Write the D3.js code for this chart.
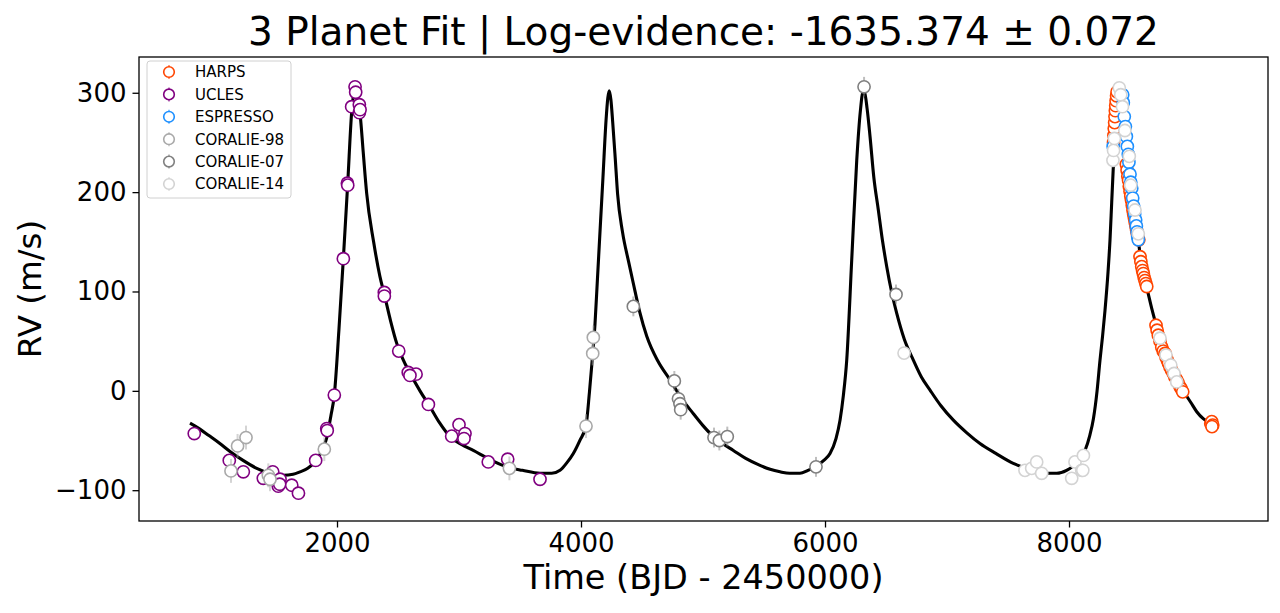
<!DOCTYPE html>
<html><head><meta charset="utf-8">
<script src="https://cdn.jsdelivr.net/npm/d3@7"></script>
<style>body{margin:0;background:#fff} svg{display:block} text{font-family:"DejaVu Sans",sans-serif}</style>
</head><body><svg id="c" width="1280" height="613"></svg>
<script>
// ---------- data ----------
const titleText = "3 Planet Fit | Log-evidence: -1635.374 ± 0.072";
const xTicks = [2000, 4000, 6000, 8000];
const yTicks = [-100, 0, 100, 200, 300];
const instNames = ["HARPS", "UCLES", "ESPRESSO", "CORALIE-98", "CORALIE-07", "CORALIE-14"];
const instColors = ["#ff4500", "#800080", "#1e90ff", "#a9a9a9", "#808080", "#d3d3d3"];
const instErr = [1.2, 3, 0.6, 12, 10, 4];

const modelT = [795,870,950,1040,1123,1230,1342,1450,1560,1640,1697,1760,1806,1870,1916,1950,1978,2015,2052,2088,2120,2140,2150,2165,2189,2215,2243,2300,2352,2388,2440,2489,2540,2598,2680,2762,2840,2926,3020,3117,3250,3391,3520,3664,3760,3828,3880,3937,3990,4041,4070,4096,4115,4134,4160,4180,4205,4220,4232,4245,4260,4280,4300,4340,4390,4429,4480,4539,4630,4730,4821,4921,5000,5085,5160,5249,5350,5467,5550,5631,5710,5795,5860,5926,5990,6041,6090,6123,6150,6178,6219,6260,6290,6312,6325,6345,6369,6400,6437,6470,6506,6545,6588,6650,6724,6790,6861,6950,7052,7160,7270,7400,7543,7680,7817,7900,7980,8030,8070,8131,8170,8200,8230,8254,8275,8295,8320,8336,8350,8363,8376,8390,8404,8420,8445,8470,8486,8510,8541,8568,8590,8609,8637,8680,8719,8760,8828,8883,8937,9000,9047,9100,9165];
const modelRV = [-32.5,-38,-45,-53,-61,-70,-78,-83,-85,-84,-81.5,-78,-73,-62,-47,-25,-4,60,133,209,280,300,301,297,279,240,199,150,115,97,70,48,32,18,0,-16,-32,-46,-54,-60,-69,-76.5,-80,-83,-83,-80,-73,-63,-50,-35,0,37,68,111,170,215,272,295,302,293,270,235,198,160,130,108,80,55,30,11,-7,-23,-35,-46,-53,-60,-68,-75,-79,-81.5,-83,-83,-80,-76,-70,-63,-48,-29.5,-5,31,132,232,282,301,300,284,256,215,182,152,125,100,78,52,31,14,0.7,-15,-29.5,-42,-53,-63,-73,-79,-83,-83,-80,-76,-71,-60,-45,-28,0,31,55,81,120,152,190,225,260,290,303,299,283,252,234,205,178,152,130,117,104,82,64,46,27,12,0,-12,-21,-28,-33];

// HARPS
const harpsT = [8365,8368,8371,8374,8377,8380,8383,8386,8390,8394,8470,8476,8482,8488,8494,8500,8506,8512,8518,8524,8530,8536,8542,8548,8554,8560,8566,8572,8582,8589,8596,8603,8609,8616,8623,8630,8637,8713,8722,8732,8746,8760,8772,8787,8795,8806,8815,8828,8840,8855,8868,8883,8895,8910,8920,8932,9162,9170,9178,9172];
const harpsRV = [250,257,264,270,276,282,287,292,297,301,228,222,216,212,206,201,196,192,187,182,178,174,170,166,162,158,155,152,135,130,125,121,118,114,111,108,105,66,61,56,50,44,40,37.6,34,31,28,24,21,17.5,14,11,8,4,2,-1,-33,-31,-34.5,-36];
// UCLES
const uclesT = [830,1117,1232,1396,1473,1533,1519,1530,1629,1684,1825,1916,1920,1978,2052,2085,2088,2120,2148,2153,2183,2183,2189,2388,2388,2506,2584,2648,2598,2749,2940,3000,3049,3041,3240,3399,3664];
const uclesRV = [-43,-70,-81.5,-88,-81.5,-89,-96,-94,-95,-103,-70,-38,-40,-4.3,133,209,207,286,306,300.5,288,280,283,99,95.4,40,18.5,16.8,15.5,-13.7,-45.6,-34,-43,-48,-71.5,-68.8,-89];
// ESPRESSO
const espT = [8362,8440,8445,8453,8462,8470,8478,8486,8491,8500,8506,8514,8522,8530,8538,8546,8552,8558,8563,8568];
const espRV = [246,298,290,276,266,256,246,238,230,218,210,204,194,186,178,172,166,160,155,152];
// CORALIE-98
const c98T = [1131,1185,1254,1437,1451,1896,3413,4041,4096,4101];
const c98RV = [-80.6,-55.4,-47,-85,-89,-58.7,-78,-35.5,37.6,53.8];
// CORALIE-07
const c07T = [4429,4765,4799,4811,4817,5090,5134,5199,5926,6320,6582];
const c07RV = [85,10,-8,-13,-19,-47,-50,-46,-76.5,306,97];
// CORALIE-14
const c14T = [6648,7639,7694,7735,7776,8022,8049,8104,8118,8113,8360,8365,8372,8412,8424,8438,8458,8494,8506,8541,8568,8746,8795,8834,8861,8883];
const c14RV = [38,-80,-78,-71.5,-83,-88,-71.5,-80,-65,-80,232,242,254,305,298,286,262,236,207,182,158,53,36,26,17.5,9];

const instT = [harpsT, uclesT, espT, c98T, c07T, c14T];
const instRV = [harpsRV, uclesRV, espRV, c98RV, c07RV, c14RV];

// ---------- drawing ----------
const svg = d3.select("#c");
const L = 139, R = 1268, T = 57, B = 521;
const x = d3.scaleLinear().domain([377, 9631]).range([L, R]);
const y = d3.scaleLinear().domain([-131, 336]).range([B, T]);

const plot = svg.append("g");
plot.append("defs").append("clipPath").attr("id", "clip")
  .append("rect").attr("x", L).attr("y", T).attr("width", R - L).attr("height", B - T);
const inner = plot.append("g").attr("clip-path", "url(#clip)");

// model
const model = modelT.map((t, i) => [t, modelRV[i]]);
inner.append("path").datum(model)
  .attr("d", d3.line().x(d => x(d[0])).y(d => y(d[1])).curve(d3.curveMonotoneX))
  .attr("fill", "none").attr("stroke", "#000").attr("stroke-width", 3.1)
  .attr("stroke-linejoin", "round");

// data
instNames.forEach((name, k) => {
  const pts = instT[k].map((t, i) => ({t, v: instRV[k][i]}));
  const g = inner.append("g");
  g.selectAll("line").data(pts).join("line")
    .attr("x1", d => x(d.t)).attr("x2", d => x(d.t))
    .attr("y1", d => y(d.v - instErr[k])).attr("y2", d => y(d.v + instErr[k]))
    .attr("stroke", instColors[k]).attr("stroke-opacity", 0.5).attr("stroke-width", 2);
  g.selectAll("circle").data(pts).join("circle")
    .attr("cx", d => x(d.t)).attr("cy", d => y(d.v)).attr("r", 6.1)
    .attr("fill", "#fff").attr("stroke", instColors[k]).attr("stroke-width", 1.6);
});

// frame
svg.append("rect").attr("x", L).attr("y", T).attr("width", R - L).attr("height", B - T)
  .attr("fill", "none").attr("stroke", "#000").attr("stroke-width", 1.3);

// axes
const xAxis = svg.append("g").attr("transform", `translate(0,${B})`)
  .call(d3.axisBottom(x).tickValues(xTicks).tickSize(6.5).tickPadding(6).tickFormat(d3.format("d")));
const yAxis = svg.append("g").attr("transform", `translate(${L},0)`)
  .call(d3.axisLeft(y).tickValues(yTicks).tickSize(6.5).tickPadding(6).tickFormat(d3.format("d")));
[xAxis, yAxis].forEach(a => {
  a.select(".domain").remove();
  a.selectAll(".tick line").attr("stroke", "#000").attr("stroke-width", 1.3);
  a.selectAll(".tick text").attr("fill", "#000").style("font-size", "26px")
    .style("font-family", "'DejaVu Sans', sans-serif");
});

// labels
svg.append("text").attr("x", (L + R) / 2).attr("y", 45).attr("text-anchor", "middle")
  .style("font-size", "39px").text(titleText);
svg.append("text").attr("x", (L + R) / 2).attr("y", 589).attr("text-anchor", "middle")
  .style("font-size", "33.5px").text("Time (BJD - 2450000)");
svg.append("text").attr("transform", `translate(41,${(T + B) / 2}) rotate(-90)`)
  .attr("text-anchor", "middle").style("font-size", "32.5px").text("RV (m/s)");

// legend
const lg = svg.append("g");
lg.append("rect").attr("x", 147).attr("y", 61).attr("width", 144).attr("height", 137)
  .attr("rx", 3).attr("fill", "#fff").attr("fill-opacity", 0.8)
  .attr("stroke", "#d0d0d0").attr("stroke-width", 1);
instNames.forEach((name, k) => {
  const cy = 72 + k * 22.4;
  lg.append("line").attr("x1", 169).attr("x2", 169).attr("y1", cy - 7).attr("y2", cy + 7)
    .attr("stroke", instColors[k]).attr("stroke-opacity", 0.5).attr("stroke-width", 2);
  lg.append("circle").attr("cx", 169).attr("cy", cy).attr("r", 5.3)
    .attr("fill", "#fff").attr("stroke", instColors[k]).attr("stroke-width", 1.6);
  lg.append("text").attr("x", 195).attr("y", cy + 5.4).style("font-size", "15px").text(name);
});
</script></body></html>
